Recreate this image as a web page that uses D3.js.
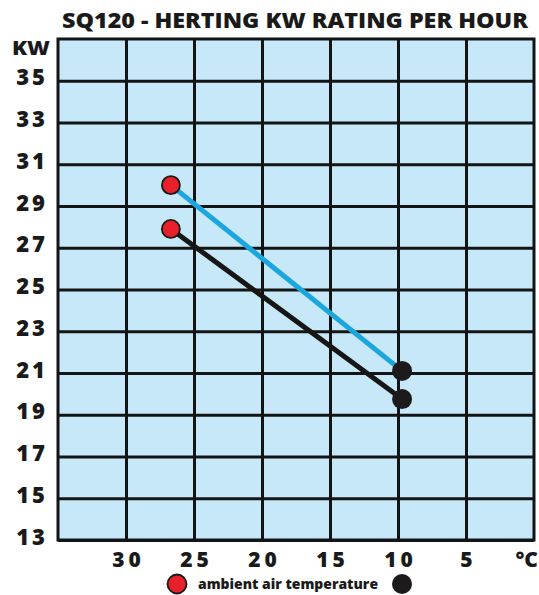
<!DOCTYPE html>
<html>
<head>
<meta charset="utf-8">
<script src="https://cdn.jsdelivr.net/npm/d3@7"></script>
<style>
  html, body { margin: 0; padding: 0; background: #fff; }
  svg { display: block; }
  text { font-family: "Open Sans", "DejaVu Sans", sans-serif; font-weight: 800; fill: #1a1a1a; }
</style>
</head>
<body>
<svg id="chart" width="539" height="595"></svg>
<script>
// ---- data ----
const title = "SQ120 - HERTING KW RATING PER HOUR";
const yUnit = "KW";
const xUnit = "°C";
const legendLabel = "ambient air temperature";
const ambientTemp = [26.7, 9.7];       // °C, start (red) and end (black)
const upperKw = [30.0, 21.1];          // blue line
const lowerKw = [27.9, 19.75];         // black line
const yTicks = [13, 15, 17, 19, 21, 23, 25, 27, 29, 31, 33, 35];
const xTicks = [30, 25, 20, 15, 10, 5];

// ---- layout ----
const svg = d3.select("#chart");
const pLeft = 58, pRight = 534, pTop = 39, pBottom = 540;
const x = d3.scaleLinear().domain([35, 0]).range([pLeft, pRight]);
const y = d3.scaleLinear().domain([13, 37]).range([pBottom, pTop]);

// background
svg.append("rect")
  .attr("x", pLeft).attr("y", pTop)
  .attr("width", pRight - pLeft).attr("height", pBottom - pTop)
  .attr("fill", "#c6e8f8");

// grid via axes
const gy = svg.append("g")
  .attr("transform", `translate(${pLeft},0)`)
  .call(d3.axisLeft(y).tickValues(yTicks).tickSize(-(pRight - pLeft)).tickPadding(10).tickFormat(d3.format("d")));
gy.select(".domain").remove();
gy.selectAll(".tick line").attr("stroke", "#141414").attr("stroke-width", 3);
gy.selectAll(".tick text")
  .attr("font-size", 22).attr("dy", 4).attr("letter-spacing", 3)
  .attr("text-anchor", "end")
  .attr("x", -10)
  .style("font-family", '"Open Sans", sans-serif').style("font-weight", 800).attr("fill", "#1a1a1a");

const gx = svg.append("g")
  .attr("transform", `translate(0,${pBottom})`)
  .call(d3.axisBottom(x).tickValues(xTicks).tickSize(-(pBottom - pTop)).tickPadding(12).tickFormat(d3.format("d")));
gx.select(".domain").remove();
gx.selectAll(".tick line").attr("stroke", "#141414").attr("stroke-width", 3);
gx.selectAll(".tick text")
  .attr("font-size", 21).attr("letter-spacing", 4).attr("dx", 2)
  .attr("y", 27).attr("dy", 0)
  .style("font-family", '"Open Sans", sans-serif').style("font-weight", 800).attr("fill", "#1a1a1a");

// border
svg.append("rect")
  .attr("x", pLeft).attr("y", pTop)
  .attr("width", pRight - pLeft).attr("height", pBottom - pTop)
  .attr("fill", "none").attr("stroke", "#141414").attr("stroke-width", 3);

// lines
const line = d3.line().x(d => x(d[0])).y(d => y(d[1]));
svg.append("path")
  .attr("d", line(d3.zip(ambientTemp, upperKw)))
  .attr("stroke", "#1ba7de").attr("stroke-width", 5).attr("fill", "none");
svg.append("path")
  .attr("d", line(d3.zip(ambientTemp, lowerKw)))
  .attr("stroke", "#161616").attr("stroke-width", 5).attr("fill", "none");

// points
[upperKw, lowerKw].forEach(series => {
  svg.append("circle")
    .attr("cx", x(ambientTemp[0])).attr("cy", y(series[0])).attr("r", 9)
    .attr("fill", "#e8202a").attr("stroke", "#1a1a1a").attr("stroke-width", 1.8);
  svg.append("circle")
    .attr("cx", x(ambientTemp[1])).attr("cy", y(series[1])).attr("r", 10)
    .attr("fill", "#1c1a1b");
});

// title
svg.append("text")
  .attr("x", 62).attr("y", 28)
  .attr("font-size", 21)
  .attr("textLength", 466).attr("lengthAdjust", "spacingAndGlyphs")
  .text(title);

// unit labels
svg.append("text")
  .attr("x", 50).attr("y", 55).attr("text-anchor", "end")
  .attr("font-size", 19).attr("textLength", 38).attr("lengthAdjust", "spacingAndGlyphs")
  .text(yUnit);
svg.append("text")
  .attr("x", 538).attr("y", 567).attr("text-anchor", "end")
  .attr("font-size", 21)
  .text(xUnit);

// legend
svg.append("circle").attr("cx", 177).attr("cy", 584).attr("r", 9.5)
  .attr("fill", "#e8202a").attr("stroke", "#1a1a1a").attr("stroke-width", 1.8);
svg.append("text")
  .attr("x", 198).attr("y", 589)
  .attr("font-size", 13.5).attr("textLength", 180).attr("lengthAdjust", "spacingAndGlyphs")
  .text(legendLabel);
svg.append("circle").attr("cx", 402).attr("cy", 584).attr("r", 10)
  .attr("fill", "#1c1a1b");
</script>
</body>
</html>
